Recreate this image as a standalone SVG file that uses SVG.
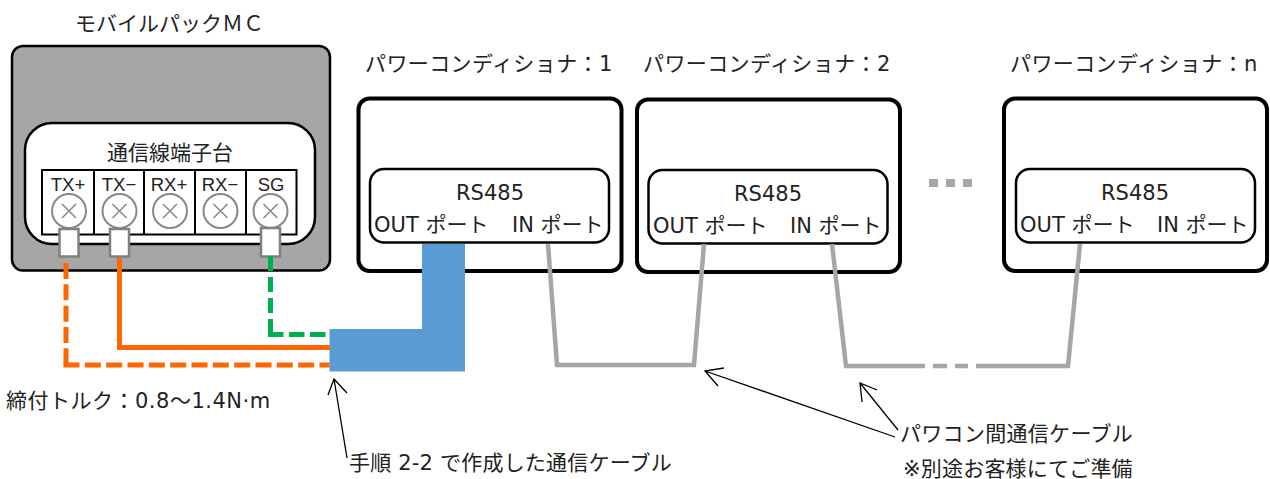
<svg xmlns="http://www.w3.org/2000/svg" width="1270" height="479" viewBox="0 0 1270 479">
<style>
text{font-family:"DejaVu Sans","Noto Sans CJK JP",sans-serif;fill:#222;font-size:21px}
.c{text-anchor:middle}
.h{letter-spacing:.4px}
.t{font-size:18.500px;text-anchor:middle;font-family:"Liberation Sans",sans-serif}
.pcs{fill:#fff;stroke:#000;stroke-width:4}
.port{fill:#fff;stroke:#000;stroke-width:2.500}
.scr{fill:#fff;stroke:#888;stroke-width:2}
.x{stroke:#888;stroke-width:1.500;fill:none}
.lug{fill:#fff;stroke:#808080;stroke-width:2.500}
.w{fill:none;stroke-width:5}
.o{stroke:#ff6600}
.gr{stroke:#00b050}
.g{stroke:#a6a6a6;fill:none;stroke-width:4.500}
.ar{fill:none;stroke:#000;stroke-width:1.300}
</style>
<g id="mobile-pack">
<text x="75" y="31">モバイルパックＭＣ</text>
<rect x="12" y="46" width="318" height="224.500" rx="11" fill="#a6a6a6" stroke="#000" stroke-width="2.500"/>
<rect x="25" y="123" width="290" height="121" rx="27" fill="#fff" stroke="#000" stroke-width="2.500"/>
<text class="c" x="170" y="160">通信線端子台</text>
<rect x="42" y="170" width="254.500" height="64.500" fill="#fff" stroke="#000" stroke-width="2"/>
<path d="M94 170V234.500M144 170V234.500M195 170V234.500M246 170V234.500" stroke="#000" stroke-width="2"/>
<text class="t" x="68" y="191">TX+</text><text class="t" x="119" y="191">TX−</text><text class="t" x="169" y="191">RX+</text><text class="t" x="220" y="191">RX−</text><text class="t" x="271" y="191">SG</text>
<g id="screws">
<g transform="translate(69,211)"><circle class="scr" r="17"/><path class="x" d="M-7-7L7 7M7-7L-7 7"/></g>
<g transform="translate(119.500,211)"><circle class="scr" r="17"/><path class="x" d="M-7-7L7 7M7-7L-7 7"/></g>
<g transform="translate(170,211)"><circle class="scr" r="17"/><path class="x" d="M-7-7L7 7M7-7L-7 7"/></g>
<g transform="translate(220.500,211)"><circle class="scr" r="17"/><path class="x" d="M-7-7L7 7M7-7L-7 7"/></g>
<g transform="translate(270.500,211)"><circle class="scr" r="17"/><path class="x" d="M-7-7L7 7M7-7L-7 7"/></g>
</g>
<rect class="lug" x="59.500" y="229" width="19" height="27.500"/>
<rect class="lug" x="110" y="229" width="19" height="27.500"/>
<rect class="lug" x="261" y="228" width="19" height="28.500"/>
</g>
<g id="pcs-1">
<text class="h" x="365" y="71">パワーコンディショナ：1</text>
<rect class="pcs" x="358.500" y="98.500" width="263" height="172.500" rx="11"/>
<rect class="port" x="370" y="169" width="239" height="73.500" rx="14"/>
<text class="c" x="490" y="200">RS485</text>
<text x="374" y="232">OUT ポート</text><text x="512" y="232">IN ポート</text>
</g>
<g id="pcs-2">
<text class="h" x="643" y="71">パワーコンディショナ：2</text>
<rect class="pcs" x="637" y="99.500" width="263" height="172.500" rx="11"/>
<rect class="port" x="648.500" y="170" width="239" height="73.500" rx="14"/>
<text class="c" x="768" y="201">RS485</text>
<text x="653" y="233">OUT ポート</text><text x="790" y="233">IN ポート</text>
</g>
<g id="pcs-n">
<text class="h" x="1010" y="71">パワーコンディショナ：n</text>
<rect class="pcs" x="1004" y="98.500" width="263" height="172.500" rx="11"/>
<rect class="port" x="1016" y="169" width="239" height="73.500" rx="14"/>
<text class="c" x="1135" y="200">RS485</text>
<text x="1020" y="232">OUT ポート</text><text x="1157" y="232">IN ポート</text>
</g>
<g id="dots" fill="#a6a6a6"><rect x="929" y="179" width="9" height="8"/><rect x="946" y="179" width="9" height="8"/><rect x="963" y="179" width="9" height="8"/></g>
<g id="connectors">
<path d="M422 244H465V371.500H329.500V329H422Z" fill="#5b9bd5"/>
<path class="w o" d="M66 263V367" stroke-dasharray="16 5.330"/>
<path class="w o" d="M63.500 365H329.500" stroke-dasharray="16 5.330"/>
<path class="w" stroke="#ff6600" d="M119.500 258V347.500H330"/>
<path class="w gr" d="M270.500 256V336" stroke-dasharray="15 6"/>
<path class="w gr" d="M268 334.500H327" stroke-dasharray="15.500 5.500"/>
<path class="g" d="M548 244L557 365H694L704 244"/>
<path class="g" d="M832 244L846 366H925M933 366H947M955 366H968M976 366H1068L1080 244"/>
<path class="ar" d="M347 458L334 379M328 395L334 379L347 393"/>
<path class="ar" d="M895 437L705 371M724 368L705 371L718 386"/>
<path class="ar" d="M898 430L860 383M877 390L860 383L862 402"/>
</g>
<g id="labels">
<text x="6" y="408" style="letter-spacing:.5px">締付トルク：0.8～1.4N·m</text>
<text x="349" y="470" style="letter-spacing:.2px">手順 2-2 で作成した通信ケーブル</text>
<text x="900" y="441" style="letter-spacing:.3px">パワコン間通信ケーブル</text>
<text x="903" y="476" style="letter-spacing:.2px">※別途お客様にてご準備</text>
</g>
</svg>
